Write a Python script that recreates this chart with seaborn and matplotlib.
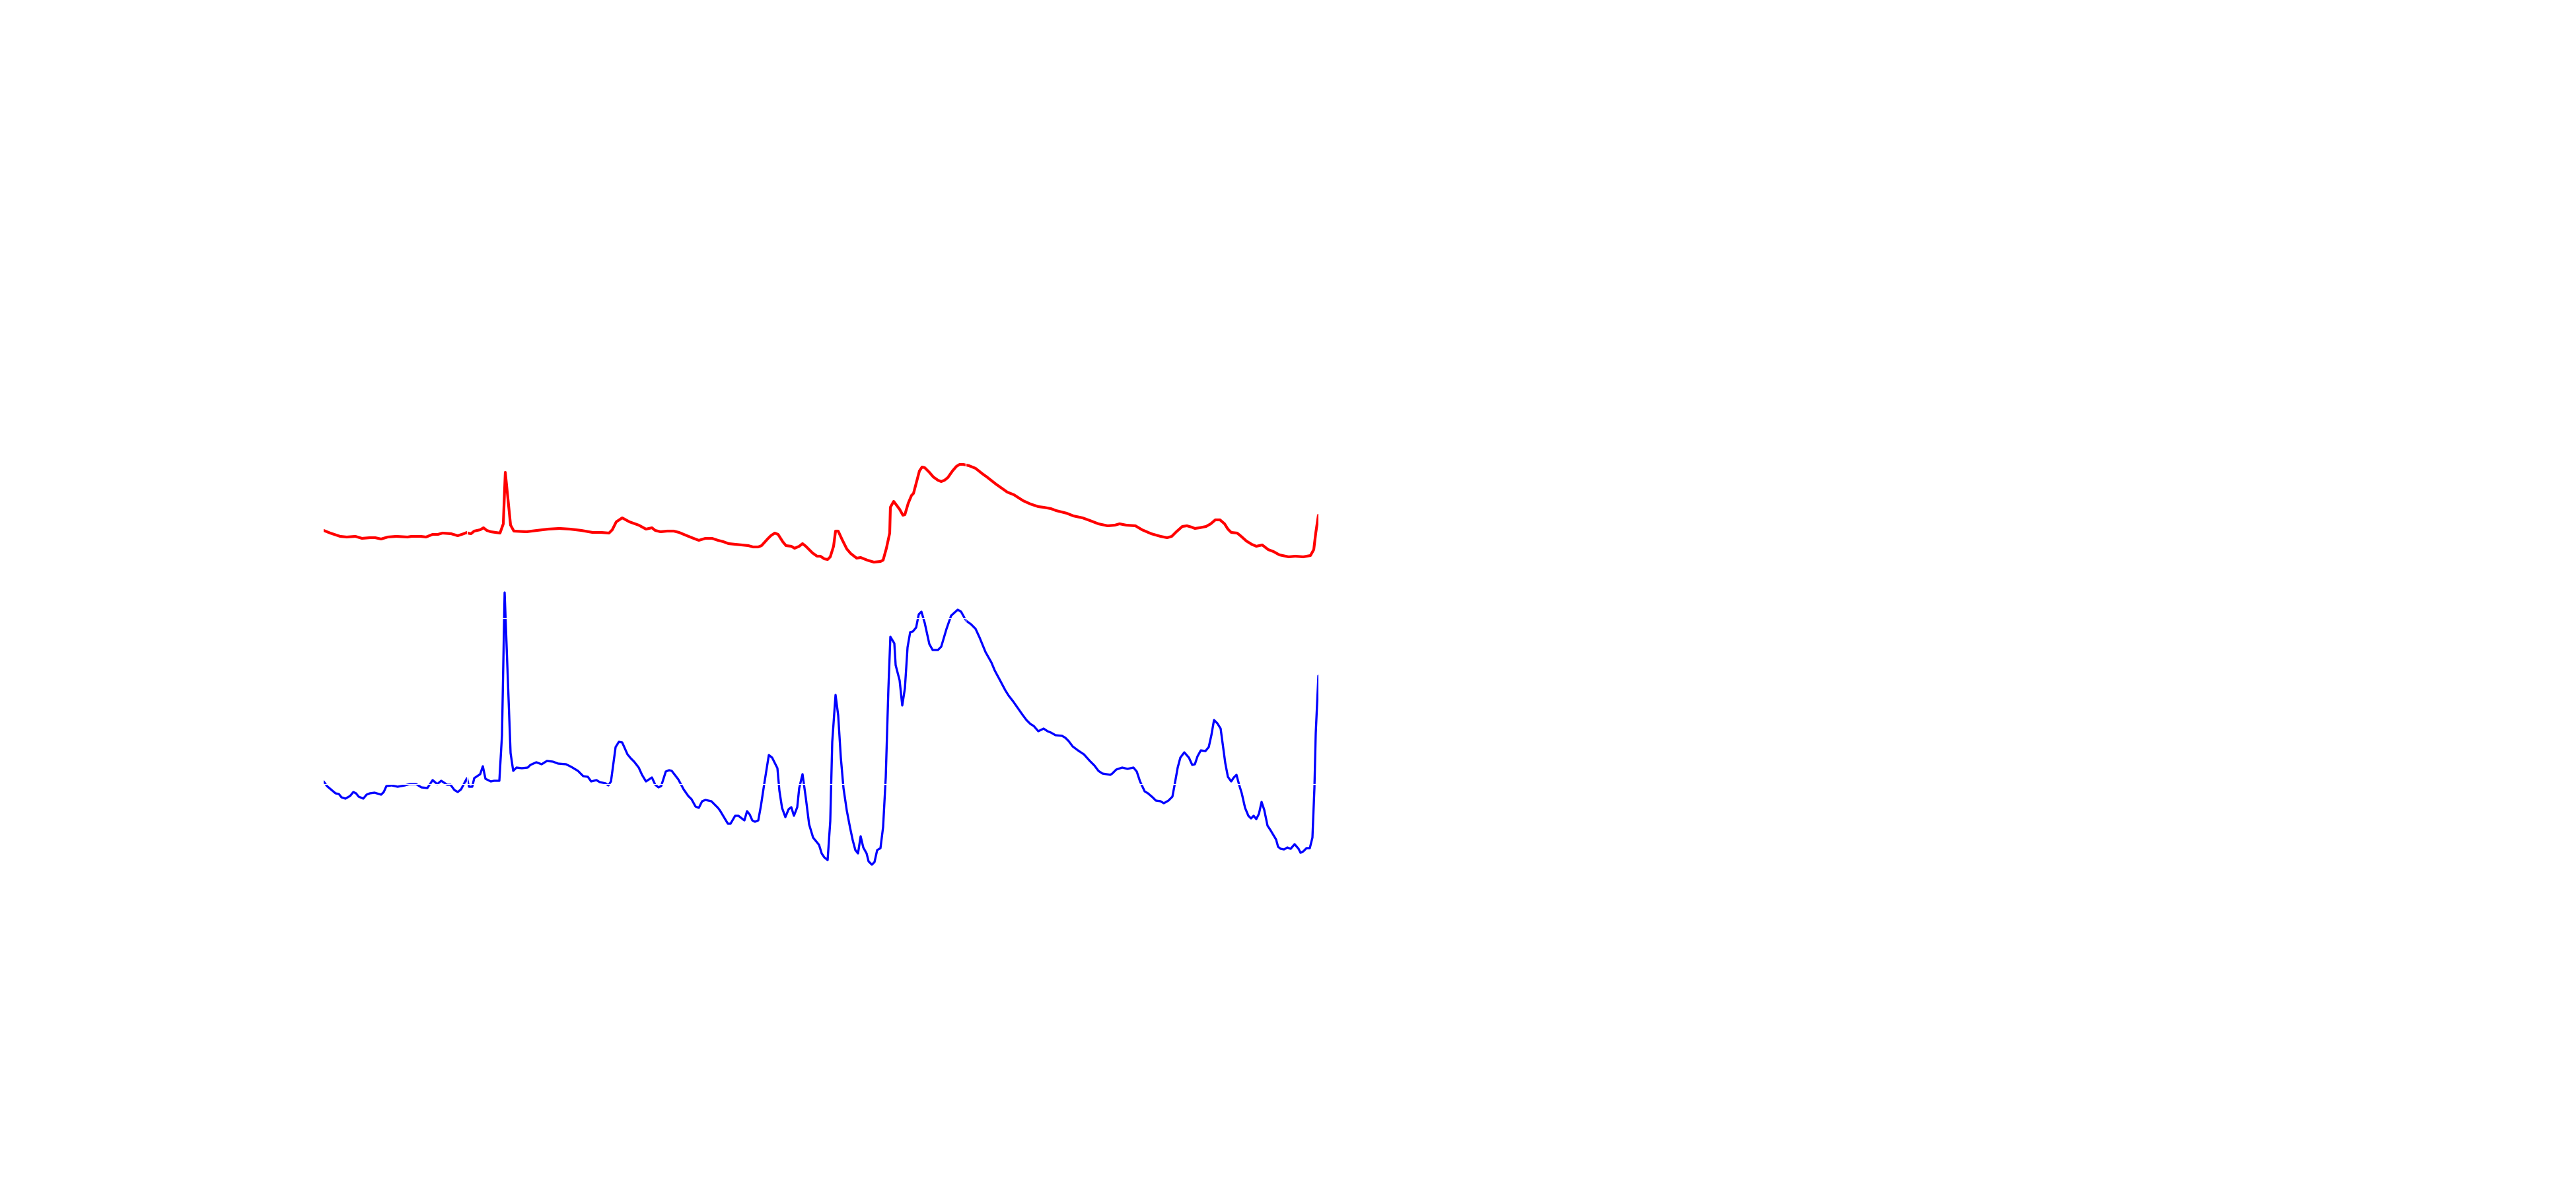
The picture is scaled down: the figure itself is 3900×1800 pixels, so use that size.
# ==========================================
# Two spectra, red over blue, no axes
# ==========================================

import matplotlib
matplotlib.use("Agg")
import matplotlib.pyplot as plt
import seaborn as sns

# -----------------------------------------
# Data
# -----------------------------------------

red_x = [0, 10, 25, 35, 48, 58, 70, 78, 87, 97, 110, 127, 133, 147, 155, 165, 173, 180,
         193, 203, 212, 217, 218, 223, 228, 237, 242, 247, 253, 267, 272, 275, 283, 288,
         307, 323, 340, 357, 373, 390, 407, 420, 432, 437, 443, 452, 463, 477, 488, 497,
         502, 510, 520, 530, 538, 550, 560, 568, 578, 588, 597, 605, 613, 623, 633, 643,
         650, 658, 663, 672, 677, 683, 688, 695, 700, 708, 713, 720, 725, 730, 740, 747,
         752, 758, 763, 767, 772, 775, 779, 785, 792, 798, 807, 813, 823, 833, 843, 847,
         852, 857, 858, 863, 872, 877, 880, 885, 890, 893, 898, 902, 906, 910, 917, 923,
         930, 935, 940, 945, 952, 958, 963, 968, 977, 987, 997,
         1004, 1018, 1035, 1045, 1059, 1070, 1082, 1090, 1101, 1109, 1125, 1135, 1149,
         1160, 1173, 1187, 1198, 1205, 1215, 1229, 1239, 1253, 1267, 1277, 1284, 1291,
         1300, 1307, 1314, 1319, 1326, 1336, 1343, 1350, 1357, 1364, 1369, 1374, 1383,
         1388, 1397, 1405, 1412, 1421, 1430, 1438, 1447, 1461, 1471, 1483, 1494, 1499,
         1502, 1506]
red_y = [597, 593, 588, 587, 588, 585, 586, 586, 584, 587, 588, 587, 588, 588, 587, 591,
         591, 593, 592, 589, 592, 594, 593, 592, 596, 598, 601, 597, 595, 593, 607, 685,
         605, 596, 595, 597, 599, 600, 599, 597, 594, 594, 593, 598, 610, 616, 610, 605,
         599, 601, 597, 595, 596, 596, 594, 589, 585, 582, 585, 585, 582, 580, 577, 576,
         575, 574, 572, 572, 574, 584, 589, 593, 591, 580, 574, 573, 570, 573, 577, 573,
         563, 558, 558, 554, 553, 557, 573, 596, 596, 583, 569, 562, 555, 556, 552, 549,
         550, 552, 570, 593, 632, 641, 629, 620, 621, 638, 650, 653, 672, 687, 693, 692,
         685, 678, 673, 671, 673, 677, 687, 694, 697, 697, 695, 691, 683, 678, 667, 655,
         651, 642, 637, 633, 632, 630, 627, 623, 619, 616, 612, 607, 604, 605, 607, 605,
         604, 598, 592, 588, 586, 588, 595, 603, 604, 602, 600, 601, 603, 607, 613, 613,
         607, 599, 594, 593, 589, 581, 576, 573, 575, 568, 565, 560, 557, 558, 557, 559,
         568, 593, 620]

blue_x = [0, 5, 12, 18, 23, 27, 33, 40, 45, 49, 53, 60, 65, 70, 77, 87, 91, 95, 103, 112,
          123, 130, 140, 148, 157, 165, 172, 178, 187, 192, 198, 203, 208, 217, 220, 225,
          228, 237, 241, 245, 253, 258, 266, 270, 274, 280, 283, 287, 292, 300, 309, 313,
          322, 330, 338, 347, 355, 367, 375, 385, 393, 400, 405, 413, 418, 427, 431, 435,
          442, 447, 452, 460, 465, 470, 477, 482, 488, 497, 502, 507, 511, 518, 523, 527,
          537, 545, 552, 557, 563, 568, 573, 578, 587, 597, 600, 612, 616, 623, 628, 637,
          641, 645, 649, 653, 658, 662, 667, 674, 679, 687, 690, 694, 699, 704, 708, 712,
          717, 720, 725, 730, 735, 741, 750, 754, 758, 763, 767, 770, 775, 779, 783, 787,
          792, 797, 801, 805, 809, 813, 817, 822, 825, 830, 834, 838, 843, 847, 851, 855,
          858, 864, 866, 872, 876, 880, 884, 888, 892, 897, 899, 901, 905, 910, 917, 922,
          930, 935, 943, 950, 960, 965, 970, 973, 980, 987, 993,
          1002, 1011, 1016, 1023, 1032, 1037, 1044, 1051, 1058, 1064,
          1070, 1075, 1082, 1090, 1096, 1101, 1108, 1118, 1123, 1128,
          1134, 1142, 1151, 1160, 1167, 1173, 1179, 1191, 1194, 1200,
          1209, 1217, 1226, 1231, 1236, 1243, 1248, 1255, 1260, 1267,
          1272, 1279, 1285, 1288, 1293, 1297, 1303, 1310, 1315, 1319,
          1323, 1328, 1335, 1340, 1344, 1348, 1353, 1358, 1361, 1365,
          1369, 1374, 1378, 1382, 1386, 1390, 1395, 1400, 1404, 1408,
          1412, 1416, 1420, 1424, 1429, 1433, 1442, 1445, 1449, 1454,
          1459, 1464, 1470, 1476, 1479, 1483, 1488, 1493, 1497, 1500,
          1502, 1506]
blue_y = [217, 210, 204, 199, 198, 193, 191, 195, 201, 199, 194, 191, 197, 199, 200, 197,
          201, 210, 211, 209, 211, 213, 213, 208, 207, 219, 213, 218, 212, 212, 204, 201,
          205, 222, 209, 209, 222, 228, 240, 221, 217, 218, 218, 287, 503, 340, 260, 233,
          238, 237, 238, 242, 246, 243, 248, 247, 244, 243, 239, 233, 225, 224, 217, 219,
          216, 214, 211, 217, 269, 277, 276, 258, 252, 247, 238, 227, 217, 223, 212, 208,
          210, 232, 234, 233, 220, 205, 195, 190, 179, 177, 187, 189, 187, 177, 173, 153,
          153, 165, 165, 158, 172, 167, 158, 156, 158, 180, 213, 257, 253, 237, 203, 177,
          163, 175, 178, 165, 178, 207, 228, 192, 152, 132, 121, 108, 102, 98, 157, 277,
          348, 317, 253, 207, 173, 147, 128, 113, 108, 134, 117, 108, 96, 91, 95, 113, 116,
          148, 223, 357, 436, 426, 393, 370, 332, 358, 420, 443, 444, 450, 460, 470, 474,
          457, 425, 416, 416, 421, 448, 468, 477, 474, 465, 460, 455, 448, 435, 413, 397,
          385, 372, 355, 347, 338, 328, 318, 310, 304, 301, 293, 297, 293, 291, 287, 286,
          283, 278, 270, 264, 258, 248, 241, 233, 229, 227, 229, 235, 238, 236, 238, 232,
          217, 202, 199, 193, 188, 187, 184, 188, 194, 210, 238, 253, 261, 253, 242, 243,
          255, 264, 263, 269, 287, 310, 305, 297, 275, 245, 224, 217, 223, 227, 212, 199,
          177, 165, 161, 165, 160, 168, 186, 174, 150, 144, 129, 118, 115, 114, 117, 115,
          122, 115, 109, 111, 116, 116, 132, 207, 290, 377]

grid_x = [217, 972]
grid_y = [213, 464, 715]

# -----------------------------------------
# Plot
# -----------------------------------------

sns.set_style("white")

fig = plt.figure(figsize=(13, 6), dpi=300)
ax = fig.add_axes([490 / 3900, 400 / 1800, 1506 / 3900, 800 / 1800])

sns.lineplot(x=red_x, y=red_y, color="#ff0000", linewidth=1.0,
             estimator=None, sort=False, ax=ax)
sns.lineplot(x=blue_x, y=blue_y, color="#0000ff", linewidth=0.8,
             estimator=None, sort=False, ax=ax)

ax.set_xlim(0, 1506)
ax.set_ylim(0, 800)

# white grid drawn over the lines, nothing else visible
ax.set_xticks(grid_x)
ax.set_yticks(grid_y)
ax.set_xticklabels([])
ax.set_yticklabels([])
ax.tick_params(length=0)
ax.set_axisbelow(False)
ax.grid(True, color="white", linewidth=0.3)
sns.despine(ax=ax, left=True, bottom=True)
ax.set_xlabel("")
ax.set_ylabel("")

fig.savefig("out.png", dpi=300, facecolor="white")
